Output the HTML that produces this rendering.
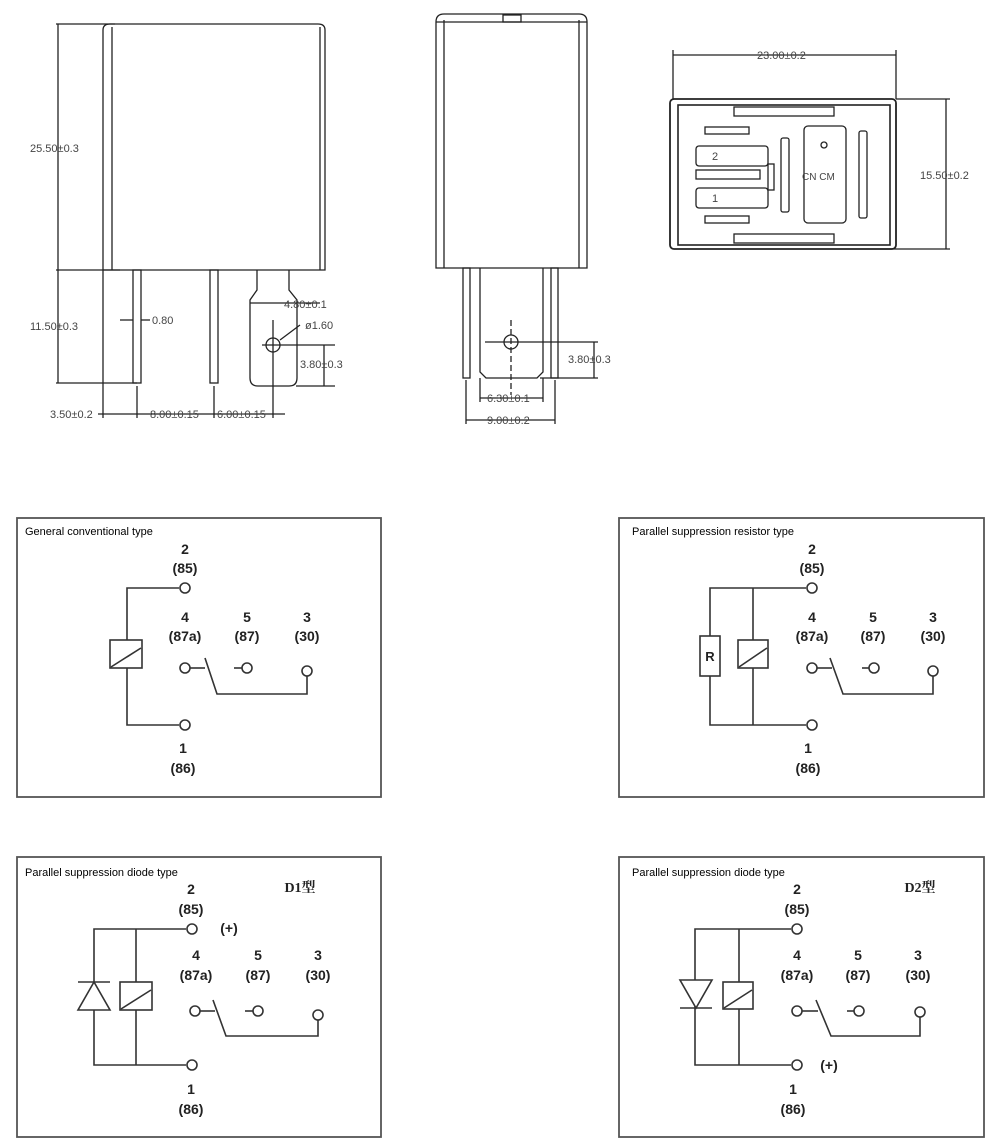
<!DOCTYPE html>
<html><head><meta charset="utf-8"><style>
html,body{margin:0;padding:0;background:#fff;}
svg{display:block;}
.d{font-family:"Liberation Sans",sans-serif;font-size:11px;fill:#444;}
.b{font-family:"Liberation Sans",sans-serif;font-size:14px;font-weight:bold;fill:#222;text-anchor:middle;}
.t{font-family:"Liberation Sans",sans-serif;font-size:11px;fill:#000;}
.c{font-family:"Liberation Serif","Noto Serif CJK SC",serif;font-size:14px;font-weight:bold;fill:#222;text-anchor:middle;}
</style></head><body>
<svg width="1000" height="1144" viewBox="0 0 1000 1144" xmlns="http://www.w3.org/2000/svg">
<g fill="none" stroke="#222" stroke-width="1.3">
<!-- left relay -->
<path d="M103 270 V30 Q103 24 110 24 H318 Q325 24 325 30 V270 Z"/>
<line x1="112" y1="27" x2="112" y2="270"/><line x1="320" y1="27" x2="320" y2="270"/>
<line x1="56" y1="24" x2="115" y2="24"/><line x1="56" y1="270" x2="120" y2="270"/>
<line x1="58" y1="24" x2="58" y2="383"/><line x1="56" y1="383" x2="137" y2="383"/>
<rect x="133" y="270" width="8" height="113"/><rect x="210" y="270" width="8" height="113"/>
<path d="M257 270 V290 L250 300 V378 Q250 386 258 386 H289 Q297 386 297 378 V300 L289 290 V270"/>
<circle cx="273" cy="345" r="7"/>
<line x1="103" y1="270" x2="103" y2="418"/><line x1="137" y1="386" x2="137" y2="418"/>
<line x1="214" y1="386" x2="214" y2="418"/><line x1="273" y1="320" x2="273" y2="418"/>
<line x1="98" y1="414" x2="285" y2="414"/>
<line x1="250" y1="303" x2="320" y2="303"/>
<line x1="262" y1="345" x2="335" y2="345"/><line x1="296" y1="386" x2="335" y2="386"/><line x1="324" y1="345" x2="324" y2="386"/>
<line x1="120" y1="320" x2="133" y2="320"/><line x1="141" y1="320" x2="150" y2="320"/>
<line x1="280" y1="340" x2="300" y2="325"/>
<!-- middle relay -->
<path d="M436 268 V22 Q436 14 444 14 H579 Q587 14 587 22 V268 Z"/>
<line x1="444" y1="20" x2="444" y2="268"/><line x1="579" y1="20" x2="579" y2="268"/>
<line x1="436" y1="22" x2="587" y2="22"/><rect x="503" y="15" width="18" height="7"/>
<rect x="463" y="268" width="7" height="110"/><rect x="551" y="268" width="7" height="110"/>
<path d="M480 268 V372 L486 378 H537 L543 372 V268"/>
<circle cx="511" cy="342" r="7"/><line x1="511" y1="320" x2="511" y2="395" stroke-dasharray="6,3"/>
<line x1="485" y1="342" x2="598" y2="342"/><line x1="540" y1="378" x2="598" y2="378"/><line x1="594" y1="342" x2="594" y2="378"/>
<line x1="480" y1="378" x2="480" y2="402"/><line x1="543" y1="378" x2="543" y2="402"/><line x1="480" y1="398" x2="543" y2="398"/>
<line x1="466" y1="380" x2="466" y2="424"/><line x1="555" y1="380" x2="555" y2="424"/><line x1="466" y1="420" x2="555" y2="420"/>
<!-- right view -->
<rect x="670" y="99" width="226" height="150" rx="4" stroke-width="1.8"/>
<rect x="678" y="105" width="212" height="140" stroke-width="1.6"/>
<line x1="673" y1="50" x2="673" y2="99"/><line x1="896" y1="50" x2="896" y2="99"/><line x1="673" y1="55" x2="896" y2="55"/>
<line x1="896" y1="99" x2="950" y2="99"/><line x1="880" y1="249" x2="950" y2="249"/><line x1="946" y1="99" x2="946" y2="249"/>
<rect x="734" y="107" width="100" height="9"/><rect x="734" y="234" width="100" height="9"/>
<rect x="705" y="127" width="44" height="7"/><rect x="696" y="146" width="72" height="20" rx="3"/>
<rect x="696" y="170" width="64" height="9"/><rect x="696" y="188" width="72" height="20" rx="3"/>
<rect x="705" y="216" width="44" height="7"/><rect x="768" y="164" width="6" height="26"/>
<rect x="781" y="138" width="8" height="74" rx="2"/><rect x="804" y="126" width="42" height="97" rx="4"/>
<circle cx="824" cy="145" r="3"/><rect x="859" y="131" width="8" height="87" rx="2"/>
</g>
<g class="d">
<text x="30" y="152">25.50±0.3</text><text x="30" y="330">11.50±0.3</text>
<text x="152" y="324">0.80</text><text x="284" y="308">4.80±0.1</text>
<text x="305" y="329">ø1.60</text><text x="300" y="368">3.80±0.3</text>
<text x="50" y="418">3.50±0.2</text><text x="150" y="418">8.00±0.15</text><text x="217" y="418">6.00±0.15</text>
<text x="568" y="363">3.80±0.3</text><text x="487" y="402">6.30±0.1</text><text x="487" y="424">9.00±0.2</text>
<text x="757" y="59">23.00±0.2</text><text x="920" y="179">15.50±0.2</text>
<text x="802" y="180" font-size="10">CN CM</text><text x="712" y="160" font-size="11">2</text><text x="712" y="202" font-size="11">1</text>
</g>
<g fill="none" stroke="#555" stroke-width="1.8">
<rect x="17" y="518" width="364" height="279"/><rect x="619" y="518" width="365" height="279"/>
<rect x="17" y="857" width="364" height="280"/><rect x="619" y="857" width="365" height="280"/>
</g>
<g fill="none" stroke="#333" stroke-width="1.6">
<path d="M179 588 H127 V725 H179"/><rect x="110" y="640" width="32" height="28" fill="#fff"/><line x1="111" y1="667" x2="141" y2="648"/>
<circle cx="185" cy="588" r="5"/><circle cx="185" cy="725" r="5"/>
<circle cx="185" cy="668" r="5"/><line x1="190" y1="668" x2="205" y2="668"/><path d="M205 658 L217 694 H307 V676"/>
<line x1="234" y1="668" x2="242" y2="668"/><circle cx="247" cy="668" r="5"/><circle cx="307" cy="671" r="5"/>
<path d="M806 588 H710 V725 H806"/><line x1="753" y1="588" x2="753" y2="725"/>
<rect x="700" y="636" width="20" height="40" fill="#fff"/><rect x="738" y="640" width="30" height="28" fill="#fff"/><line x1="739" y1="667" x2="767" y2="648"/>
<circle cx="812" cy="588" r="5"/><circle cx="812" cy="725" r="5"/>
<circle cx="812" cy="668" r="5"/><line x1="817" y1="668" x2="832" y2="668"/><path d="M830 658 L843 694 H933 V676"/>
<line x1="862" y1="668" x2="869" y2="668"/><circle cx="874" cy="668" r="5"/><circle cx="933" cy="671" r="5"/>
<path d="M186 929 H94 V1065 H186"/><line x1="136" y1="929" x2="136" y2="1065"/>
<path d="M94 982 L78 1010 H110 Z" fill="#fff"/><line x1="78" y1="982" x2="110" y2="982"/>
<rect x="120" y="982" width="32" height="28" fill="#fff"/><line x1="121" y1="1009" x2="151" y2="990"/>
<circle cx="192" cy="929" r="5"/><circle cx="192" cy="1065" r="5"/>
<circle cx="195" cy="1011" r="5"/><line x1="200" y1="1011" x2="215" y2="1011"/><path d="M213 1000 L226 1036 H318 V1020"/>
<line x1="245" y1="1011" x2="253" y2="1011"/><circle cx="258" cy="1011" r="5"/><circle cx="318" cy="1015" r="5"/>
<path d="M791 929 H695 V1065 H791"/><line x1="739" y1="929" x2="739" y2="1065"/>
<path d="M680 980 H712 L696 1008 Z" fill="#fff"/><line x1="680" y1="1008" x2="712" y2="1008"/>
<rect x="723" y="982" width="30" height="27" fill="#fff"/><line x1="724" y1="1008" x2="752" y2="990"/>
<circle cx="797" cy="929" r="5"/><circle cx="797" cy="1065" r="5"/>
<circle cx="797" cy="1011" r="5"/><line x1="802" y1="1011" x2="818" y2="1011"/><path d="M816 1000 L831 1036 H920 V1017"/>
<line x1="847" y1="1011" x2="854" y2="1011"/><circle cx="859" cy="1011" r="5"/><circle cx="920" cy="1012" r="5"/>
</g>
<g class="t">
<text x="25" y="535">General conventional type</text>
<text x="632" y="535">Parallel suppression resistor type</text>
<text x="25" y="876">Parallel suppression diode type</text>
<text x="632" y="876">Parallel suppression diode type</text>
</g>
<g class="b">
<text x="185" y="554">2</text><text x="185" y="573">(85)</text>
<text x="185" y="622">4</text><text x="185" y="641">(87a)</text><text x="247" y="622">5</text><text x="247" y="641">(87)</text><text x="307" y="622">3</text><text x="307" y="641">(30)</text>
<text x="183" y="753">1</text><text x="183" y="773">(86)</text>
<text x="812" y="554">2</text><text x="812" y="573">(85)</text>
<text x="812" y="622">4</text><text x="812" y="641">(87a)</text><text x="873" y="622">5</text><text x="873" y="641">(87)</text><text x="933" y="622">3</text><text x="933" y="641">(30)</text>
<text x="808" y="753">1</text><text x="808" y="773">(86)</text>
<text x="710" y="661" font-size="13">R</text>
<text x="191" y="894">2</text><text x="191" y="914">(85)</text><text x="229" y="933">(+)</text>
<text x="196" y="960">4</text><text x="196" y="980">(87a)</text><text x="258" y="960">5</text><text x="258" y="980">(87)</text><text x="318" y="960">3</text><text x="318" y="980">(30)</text>
<text x="191" y="1094">1</text><text x="191" y="1114">(86)</text>
<text x="797" y="894">2</text><text x="797" y="914">(85)</text>
<text x="797" y="960">4</text><text x="797" y="980">(87a)</text><text x="858" y="960">5</text><text x="858" y="980">(87)</text><text x="918" y="960">3</text><text x="918" y="980">(30)</text>
<text x="793" y="1094">1</text><text x="793" y="1114">(86)</text><text x="829" y="1070">(+)</text>
</g>
<text class="c" x="300" y="892">D1型</text><text class="c" x="920" y="892">D2型</text>
</svg>
</body></html>
